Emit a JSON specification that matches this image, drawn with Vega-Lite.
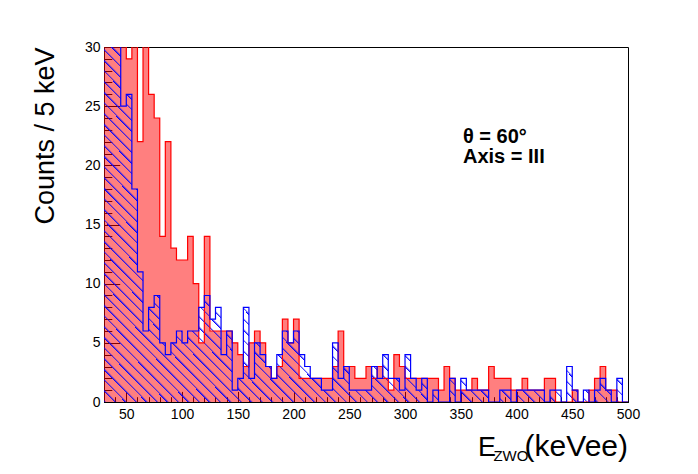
{
  "$schema": "https://vega.github.io/schema/vega-lite/v6.json",
  "description": "Energy spectrum, theta = 60 deg, Axis = III, two overlaid histograms (blue hatched, red dotted)",
  "width": 524,
  "height": 355,
  "autosize": {"type": "none"},
  "padding": {"left": 104, "top": 47, "right": 70, "bottom": 72},
  "background": "white",
  "config": {
    "font": "Liberation Sans",
    "view": {"stroke": "black", "strokeWidth": 1},
    "axis": {
      "grid": false,
      "labelFont": "Liberation Sans",
      "labelFontSize": 14,
      "labelColor": "black",
      "tickColor": "black",
      "domainColor": "black",
      "titleColor": "black"
    }
  },
  "data": {
    "values": [
      {"e": 30, "b": 45, "r": 60}, {"e": 35, "b": 40, "r": 50}, {"e": 40, "b": 33, "r": 42},
      {"e": 45, "b": 25, "r": 36}, {"e": 50, "b": 26, "r": 29}, {"e": 55, "b": 18, "r": 34},
      {"e": 60, "b": 11, "r": 22}, {"e": 65, "b": 6, "r": 32}, {"e": 70, "b": 8, "r": 26},
      {"e": 75, "b": 9, "r": 24}, {"e": 80, "b": 5, "r": 14}, {"e": 85, "b": 4, "r": 22},
      {"e": 90, "b": 5, "r": 13}, {"e": 95, "b": 6, "r": 12}, {"e": 100, "b": 5, "r": 12},
      {"e": 105, "b": 6, "r": 14}, {"e": 110, "b": 6, "r": 10}, {"e": 115, "b": 8, "r": 5},
      {"e": 120, "b": 9, "r": 14}, {"e": 125, "b": 7, "r": 6}, {"e": 130, "b": 8, "r": 6},
      {"e": 135, "b": 4, "r": 6}, {"e": 140, "b": 6, "r": 6}, {"e": 145, "b": 1, "r": 5},
      {"e": 150, "b": 2, "r": 4}, {"e": 155, "b": 8, "r": 3}, {"e": 160, "b": 2, "r": 5},
      {"e": 165, "b": 5, "r": 6}, {"e": 170, "b": 4, "r": 5}, {"e": 175, "b": 3, "r": 3},
      {"e": 180, "b": 2, "r": 2}, {"e": 185, "b": 4, "r": 3}, {"e": 190, "b": 6, "r": 7},
      {"e": 195, "b": 5, "r": 5}, {"e": 200, "b": 6, "r": 7}, {"e": 205, "b": 4, "r": 2},
      {"e": 210, "b": 3, "r": 2}, {"e": 215, "b": 2, "r": 2}, {"e": 220, "b": 2, "r": 2},
      {"e": 225, "b": 1, "r": 2}, {"e": 230, "b": 1, "r": 2}, {"e": 235, "b": 5, "r": 3},
      {"e": 240, "b": 2, "r": 6}, {"e": 245, "b": 3, "r": 3}, {"e": 250, "b": 1, "r": 3},
      {"e": 255, "b": 1, "r": 2}, {"e": 260, "b": 1, "r": 2}, {"e": 265, "b": 1, "r": 3},
      {"e": 270, "b": 3, "r": 2}, {"e": 275, "b": 2, "r": 3}, {"e": 280, "b": 4, "r": 2},
      {"e": 285, "b": 2, "r": 1}, {"e": 290, "b": 2, "r": 4}, {"e": 295, "b": 1, "r": 3},
      {"e": 300, "b": 4, "r": 2}, {"e": 305, "b": 2, "r": 2}, {"e": 310, "b": 1, "r": 2},
      {"e": 315, "b": 2, "r": 2}, {"e": 320, "b": 0, "r": 2}, {"e": 325, "b": 1, "r": 2},
      {"e": 330, "b": 0, "r": 1}, {"e": 335, "b": 0, "r": 3}, {"e": 340, "b": 2, "r": 2},
      {"e": 345, "b": 0, "r": 1}, {"e": 350, "b": 2, "r": 1}, {"e": 355, "b": 1, "r": 1},
      {"e": 360, "b": 1, "r": 2}, {"e": 365, "b": 1, "r": 1}, {"e": 370, "b": 1, "r": 1},
      {"e": 375, "b": 0, "r": 3}, {"e": 380, "b": 0, "r": 2}, {"e": 385, "b": 1, "r": 2},
      {"e": 390, "b": 1, "r": 2}, {"e": 395, "b": 0, "r": 1}, {"e": 400, "b": 1, "r": 1},
      {"e": 405, "b": 1, "r": 2}, {"e": 410, "b": 1, "r": 1}, {"e": 415, "b": 1, "r": 1},
      {"e": 420, "b": 1, "r": 1}, {"e": 425, "b": 0, "r": 2}, {"e": 430, "b": 1, "r": 2},
      {"e": 435, "b": 1, "r": 0}, {"e": 440, "b": 0, "r": 0}, {"e": 445, "b": 3, "r": 0},
      {"e": 450, "b": 1, "r": 1}, {"e": 455, "b": 0, "r": 0}, {"e": 460, "b": 1, "r": 0},
      {"e": 465, "b": 0, "r": 1}, {"e": 470, "b": 1, "r": 2}, {"e": 475, "b": 2, "r": 3},
      {"e": 480, "b": 1, "r": 1}, {"e": 485, "b": 0, "r": 1}, {"e": 490, "b": 2, "r": 0},
      {"e": 495, "b": 0, "r": 0}, {"e": 500, "b": 0, "r": 0}
    ]
  },
  "layer": [
    {
      "mark": {"type": "area", "interpolate": "step-after", "color": "#ff0000", "fillOpacity": 0.5, "clip": true},
      "encoding": {
        "x": {
          "field": "e", "type": "quantitative",
          "scale": {"domain": [30, 500], "nice": false, "zero": false},
          "axis": {
            "orient": "bottom", "title": null,
            "values": [50, 100, 150, 200, 250, 300, 350, 400, 450, 500],
            "tickSize": -10.6, "labelPadding": 15.6, "labelFlush": false
          }
        },
        "y": {
          "field": "r", "type": "quantitative",
          "scale": {"domain": [0, 30], "nice": false},
          "axis": {
            "orient": "left",
            "values": [0, 5, 10, 15, 20, 25, 30],
            "tickSize": -15.7, "labelPadding": 19.7, "labelFlush": false,
            "title": "Counts / 5 keV", "titleFontSize": 27, "titleFontWeight": "normal",
            "titleAngle": -90, "titleX": -59, "titleY": 0,
            "titleAlign": "right", "titleBaseline": "middle"
          }
        }
      }
    },
    {
      "mark": {
        "type": "area", "interpolate": "step-after", "clip": true,
        "fill": {
          "gradient": "linear", "x1": 0, "y1": 1, "x2": 1, "y2": 0,
          "stops": [
            {"offset": 0.00, "color": "#0000ff"}, {"offset": 0.0026, "color": "rgba(0,0,255,0)"}, {"offset": 0.01, "color": "rgba(0,0,255,0)"},
            {"offset": 0.01, "color": "#0000ff"}, {"offset": 0.0126, "color": "rgba(0,0,255,0)"}, {"offset": 0.02, "color": "rgba(0,0,255,0)"},
            {"offset": 0.02, "color": "#0000ff"}, {"offset": 0.0226, "color": "rgba(0,0,255,0)"}, {"offset": 0.03, "color": "rgba(0,0,255,0)"},
            {"offset": 0.03, "color": "#0000ff"}, {"offset": 0.0326, "color": "rgba(0,0,255,0)"}, {"offset": 0.04, "color": "rgba(0,0,255,0)"},
            {"offset": 0.04, "color": "#0000ff"}, {"offset": 0.0426, "color": "rgba(0,0,255,0)"}, {"offset": 0.05, "color": "rgba(0,0,255,0)"},
            {"offset": 0.05, "color": "#0000ff"}, {"offset": 0.0526, "color": "rgba(0,0,255,0)"}, {"offset": 0.06, "color": "rgba(0,0,255,0)"},
            {"offset": 0.06, "color": "#0000ff"}, {"offset": 0.0626, "color": "rgba(0,0,255,0)"}, {"offset": 0.07, "color": "rgba(0,0,255,0)"},
            {"offset": 0.07, "color": "#0000ff"}, {"offset": 0.0726, "color": "rgba(0,0,255,0)"}, {"offset": 0.08, "color": "rgba(0,0,255,0)"},
            {"offset": 0.08, "color": "#0000ff"}, {"offset": 0.0826, "color": "rgba(0,0,255,0)"}, {"offset": 0.09, "color": "rgba(0,0,255,0)"},
            {"offset": 0.09, "color": "#0000ff"}, {"offset": 0.0926, "color": "rgba(0,0,255,0)"}, {"offset": 0.10, "color": "rgba(0,0,255,0)"},
            {"offset": 0.10, "color": "#0000ff"}, {"offset": 0.1026, "color": "rgba(0,0,255,0)"}, {"offset": 0.11, "color": "rgba(0,0,255,0)"},
            {"offset": 0.11, "color": "#0000ff"}, {"offset": 0.1126, "color": "rgba(0,0,255,0)"}, {"offset": 0.12, "color": "rgba(0,0,255,0)"},
            {"offset": 0.12, "color": "#0000ff"}, {"offset": 0.1226, "color": "rgba(0,0,255,0)"}, {"offset": 0.13, "color": "rgba(0,0,255,0)"},
            {"offset": 0.13, "color": "#0000ff"}, {"offset": 0.1326, "color": "rgba(0,0,255,0)"}, {"offset": 0.14, "color": "rgba(0,0,255,0)"},
            {"offset": 0.14, "color": "#0000ff"}, {"offset": 0.1426, "color": "rgba(0,0,255,0)"}, {"offset": 0.15, "color": "rgba(0,0,255,0)"},
            {"offset": 0.15, "color": "#0000ff"}, {"offset": 0.1526, "color": "rgba(0,0,255,0)"}, {"offset": 0.16, "color": "rgba(0,0,255,0)"},
            {"offset": 0.16, "color": "#0000ff"}, {"offset": 0.1626, "color": "rgba(0,0,255,0)"}, {"offset": 0.17, "color": "rgba(0,0,255,0)"},
            {"offset": 0.17, "color": "#0000ff"}, {"offset": 0.1726, "color": "rgba(0,0,255,0)"}, {"offset": 0.18, "color": "rgba(0,0,255,0)"},
            {"offset": 0.18, "color": "#0000ff"}, {"offset": 0.1826, "color": "rgba(0,0,255,0)"}, {"offset": 0.19, "color": "rgba(0,0,255,0)"},
            {"offset": 0.19, "color": "#0000ff"}, {"offset": 0.1926, "color": "rgba(0,0,255,0)"}, {"offset": 0.20, "color": "rgba(0,0,255,0)"},
            {"offset": 0.20, "color": "#0000ff"}, {"offset": 0.2026, "color": "rgba(0,0,255,0)"}, {"offset": 0.21, "color": "rgba(0,0,255,0)"},
            {"offset": 0.21, "color": "#0000ff"}, {"offset": 0.2126, "color": "rgba(0,0,255,0)"}, {"offset": 0.22, "color": "rgba(0,0,255,0)"},
            {"offset": 0.22, "color": "#0000ff"}, {"offset": 0.2226, "color": "rgba(0,0,255,0)"}, {"offset": 0.23, "color": "rgba(0,0,255,0)"},
            {"offset": 0.23, "color": "#0000ff"}, {"offset": 0.2326, "color": "rgba(0,0,255,0)"}, {"offset": 0.24, "color": "rgba(0,0,255,0)"},
            {"offset": 0.24, "color": "#0000ff"}, {"offset": 0.2426, "color": "rgba(0,0,255,0)"}, {"offset": 0.25, "color": "rgba(0,0,255,0)"},
            {"offset": 0.25, "color": "#0000ff"}, {"offset": 0.2526, "color": "rgba(0,0,255,0)"}, {"offset": 0.26, "color": "rgba(0,0,255,0)"},
            {"offset": 0.26, "color": "#0000ff"}, {"offset": 0.2626, "color": "rgba(0,0,255,0)"}, {"offset": 0.27, "color": "rgba(0,0,255,0)"},
            {"offset": 0.27, "color": "#0000ff"}, {"offset": 0.2726, "color": "rgba(0,0,255,0)"}, {"offset": 0.28, "color": "rgba(0,0,255,0)"},
            {"offset": 0.28, "color": "#0000ff"}, {"offset": 0.2826, "color": "rgba(0,0,255,0)"}, {"offset": 0.29, "color": "rgba(0,0,255,0)"},
            {"offset": 0.29, "color": "#0000ff"}, {"offset": 0.2926, "color": "rgba(0,0,255,0)"}, {"offset": 0.30, "color": "rgba(0,0,255,0)"},
            {"offset": 0.30, "color": "#0000ff"}, {"offset": 0.3026, "color": "rgba(0,0,255,0)"}, {"offset": 0.31, "color": "rgba(0,0,255,0)"},
            {"offset": 0.31, "color": "#0000ff"}, {"offset": 0.3126, "color": "rgba(0,0,255,0)"}, {"offset": 0.32, "color": "rgba(0,0,255,0)"},
            {"offset": 0.32, "color": "#0000ff"}, {"offset": 0.3226, "color": "rgba(0,0,255,0)"}, {"offset": 0.33, "color": "rgba(0,0,255,0)"},
            {"offset": 0.33, "color": "#0000ff"}, {"offset": 0.3326, "color": "rgba(0,0,255,0)"}, {"offset": 0.34, "color": "rgba(0,0,255,0)"},
            {"offset": 0.34, "color": "#0000ff"}, {"offset": 0.3426, "color": "rgba(0,0,255,0)"}, {"offset": 0.35, "color": "rgba(0,0,255,0)"},
            {"offset": 0.35, "color": "#0000ff"}, {"offset": 0.3526, "color": "rgba(0,0,255,0)"}, {"offset": 0.36, "color": "rgba(0,0,255,0)"},
            {"offset": 0.36, "color": "#0000ff"}, {"offset": 0.3626, "color": "rgba(0,0,255,0)"}, {"offset": 0.37, "color": "rgba(0,0,255,0)"},
            {"offset": 0.37, "color": "#0000ff"}, {"offset": 0.3726, "color": "rgba(0,0,255,0)"}, {"offset": 0.38, "color": "rgba(0,0,255,0)"},
            {"offset": 0.38, "color": "#0000ff"}, {"offset": 0.3826, "color": "rgba(0,0,255,0)"}, {"offset": 0.39, "color": "rgba(0,0,255,0)"},
            {"offset": 0.39, "color": "#0000ff"}, {"offset": 0.3926, "color": "rgba(0,0,255,0)"}, {"offset": 0.40, "color": "rgba(0,0,255,0)"},
            {"offset": 0.40, "color": "#0000ff"}, {"offset": 0.4026, "color": "rgba(0,0,255,0)"}, {"offset": 0.41, "color": "rgba(0,0,255,0)"},
            {"offset": 0.41, "color": "#0000ff"}, {"offset": 0.4126, "color": "rgba(0,0,255,0)"}, {"offset": 0.42, "color": "rgba(0,0,255,0)"},
            {"offset": 0.42, "color": "#0000ff"}, {"offset": 0.4226, "color": "rgba(0,0,255,0)"}, {"offset": 0.43, "color": "rgba(0,0,255,0)"},
            {"offset": 0.43, "color": "#0000ff"}, {"offset": 0.4326, "color": "rgba(0,0,255,0)"}, {"offset": 0.44, "color": "rgba(0,0,255,0)"},
            {"offset": 0.44, "color": "#0000ff"}, {"offset": 0.4426, "color": "rgba(0,0,255,0)"}, {"offset": 0.45, "color": "rgba(0,0,255,0)"},
            {"offset": 0.45, "color": "#0000ff"}, {"offset": 0.4526, "color": "rgba(0,0,255,0)"}, {"offset": 0.46, "color": "rgba(0,0,255,0)"},
            {"offset": 0.46, "color": "#0000ff"}, {"offset": 0.4626, "color": "rgba(0,0,255,0)"}, {"offset": 0.47, "color": "rgba(0,0,255,0)"},
            {"offset": 0.47, "color": "#0000ff"}, {"offset": 0.4726, "color": "rgba(0,0,255,0)"}, {"offset": 0.48, "color": "rgba(0,0,255,0)"},
            {"offset": 0.48, "color": "#0000ff"}, {"offset": 0.4826, "color": "rgba(0,0,255,0)"}, {"offset": 0.49, "color": "rgba(0,0,255,0)"},
            {"offset": 0.49, "color": "#0000ff"}, {"offset": 0.4926, "color": "rgba(0,0,255,0)"}, {"offset": 0.50, "color": "rgba(0,0,255,0)"},
            {"offset": 0.50, "color": "#0000ff"}, {"offset": 0.5026, "color": "rgba(0,0,255,0)"}, {"offset": 0.51, "color": "rgba(0,0,255,0)"},
            {"offset": 0.51, "color": "#0000ff"}, {"offset": 0.5126, "color": "rgba(0,0,255,0)"}, {"offset": 0.52, "color": "rgba(0,0,255,0)"},
            {"offset": 0.52, "color": "#0000ff"}, {"offset": 0.5226, "color": "rgba(0,0,255,0)"}, {"offset": 0.53, "color": "rgba(0,0,255,0)"},
            {"offset": 0.53, "color": "#0000ff"}, {"offset": 0.5326, "color": "rgba(0,0,255,0)"}, {"offset": 0.54, "color": "rgba(0,0,255,0)"},
            {"offset": 0.54, "color": "#0000ff"}, {"offset": 0.5426, "color": "rgba(0,0,255,0)"}, {"offset": 0.55, "color": "rgba(0,0,255,0)"},
            {"offset": 0.55, "color": "#0000ff"}, {"offset": 0.5526, "color": "rgba(0,0,255,0)"}, {"offset": 0.56, "color": "rgba(0,0,255,0)"},
            {"offset": 0.56, "color": "#0000ff"}, {"offset": 0.5626, "color": "rgba(0,0,255,0)"}, {"offset": 0.57, "color": "rgba(0,0,255,0)"},
            {"offset": 0.57, "color": "#0000ff"}, {"offset": 0.5726, "color": "rgba(0,0,255,0)"}, {"offset": 0.58, "color": "rgba(0,0,255,0)"},
            {"offset": 0.58, "color": "#0000ff"}, {"offset": 0.5826, "color": "rgba(0,0,255,0)"}, {"offset": 0.59, "color": "rgba(0,0,255,0)"},
            {"offset": 0.59, "color": "#0000ff"}, {"offset": 0.5926, "color": "rgba(0,0,255,0)"}, {"offset": 0.60, "color": "rgba(0,0,255,0)"},
            {"offset": 0.60, "color": "#0000ff"}, {"offset": 0.6026, "color": "rgba(0,0,255,0)"}, {"offset": 0.61, "color": "rgba(0,0,255,0)"},
            {"offset": 0.61, "color": "#0000ff"}, {"offset": 0.6126, "color": "rgba(0,0,255,0)"}, {"offset": 0.62, "color": "rgba(0,0,255,0)"},
            {"offset": 0.62, "color": "#0000ff"}, {"offset": 0.6226, "color": "rgba(0,0,255,0)"}, {"offset": 0.63, "color": "rgba(0,0,255,0)"},
            {"offset": 0.63, "color": "#0000ff"}, {"offset": 0.6326, "color": "rgba(0,0,255,0)"}, {"offset": 0.64, "color": "rgba(0,0,255,0)"},
            {"offset": 0.64, "color": "#0000ff"}, {"offset": 0.6426, "color": "rgba(0,0,255,0)"}, {"offset": 0.65, "color": "rgba(0,0,255,0)"},
            {"offset": 0.65, "color": "#0000ff"}, {"offset": 0.6526, "color": "rgba(0,0,255,0)"}, {"offset": 0.66, "color": "rgba(0,0,255,0)"},
            {"offset": 0.66, "color": "#0000ff"}, {"offset": 0.6626, "color": "rgba(0,0,255,0)"}, {"offset": 0.67, "color": "rgba(0,0,255,0)"},
            {"offset": 0.67, "color": "#0000ff"}, {"offset": 0.6726, "color": "rgba(0,0,255,0)"}, {"offset": 0.68, "color": "rgba(0,0,255,0)"},
            {"offset": 0.68, "color": "#0000ff"}, {"offset": 0.6826, "color": "rgba(0,0,255,0)"}, {"offset": 0.69, "color": "rgba(0,0,255,0)"},
            {"offset": 0.69, "color": "#0000ff"}, {"offset": 0.6926, "color": "rgba(0,0,255,0)"}, {"offset": 0.70, "color": "rgba(0,0,255,0)"},
            {"offset": 0.70, "color": "#0000ff"}, {"offset": 0.7026, "color": "rgba(0,0,255,0)"}, {"offset": 0.71, "color": "rgba(0,0,255,0)"},
            {"offset": 0.71, "color": "#0000ff"}, {"offset": 0.7126, "color": "rgba(0,0,255,0)"}, {"offset": 0.72, "color": "rgba(0,0,255,0)"},
            {"offset": 0.72, "color": "#0000ff"}, {"offset": 0.7226, "color": "rgba(0,0,255,0)"}, {"offset": 0.73, "color": "rgba(0,0,255,0)"},
            {"offset": 0.73, "color": "#0000ff"}, {"offset": 0.7326, "color": "rgba(0,0,255,0)"}, {"offset": 0.74, "color": "rgba(0,0,255,0)"},
            {"offset": 0.74, "color": "#0000ff"}, {"offset": 0.7426, "color": "rgba(0,0,255,0)"}, {"offset": 0.75, "color": "rgba(0,0,255,0)"},
            {"offset": 0.75, "color": "#0000ff"}, {"offset": 0.7526, "color": "rgba(0,0,255,0)"}, {"offset": 0.76, "color": "rgba(0,0,255,0)"},
            {"offset": 0.76, "color": "#0000ff"}, {"offset": 0.7626, "color": "rgba(0,0,255,0)"}, {"offset": 0.77, "color": "rgba(0,0,255,0)"},
            {"offset": 0.77, "color": "#0000ff"}, {"offset": 0.7726, "color": "rgba(0,0,255,0)"}, {"offset": 0.78, "color": "rgba(0,0,255,0)"},
            {"offset": 0.78, "color": "#0000ff"}, {"offset": 0.7826, "color": "rgba(0,0,255,0)"}, {"offset": 0.79, "color": "rgba(0,0,255,0)"},
            {"offset": 0.79, "color": "#0000ff"}, {"offset": 0.7926, "color": "rgba(0,0,255,0)"}, {"offset": 0.80, "color": "rgba(0,0,255,0)"},
            {"offset": 0.80, "color": "#0000ff"}, {"offset": 0.8026, "color": "rgba(0,0,255,0)"}, {"offset": 0.81, "color": "rgba(0,0,255,0)"},
            {"offset": 0.81, "color": "#0000ff"}, {"offset": 0.8126, "color": "rgba(0,0,255,0)"}, {"offset": 0.82, "color": "rgba(0,0,255,0)"},
            {"offset": 0.82, "color": "#0000ff"}, {"offset": 0.8226, "color": "rgba(0,0,255,0)"}, {"offset": 0.83, "color": "rgba(0,0,255,0)"},
            {"offset": 0.83, "color": "#0000ff"}, {"offset": 0.8326, "color": "rgba(0,0,255,0)"}, {"offset": 0.84, "color": "rgba(0,0,255,0)"},
            {"offset": 0.84, "color": "#0000ff"}, {"offset": 0.8426, "color": "rgba(0,0,255,0)"}, {"offset": 0.85, "color": "rgba(0,0,255,0)"},
            {"offset": 0.85, "color": "#0000ff"}, {"offset": 0.8526, "color": "rgba(0,0,255,0)"}, {"offset": 0.86, "color": "rgba(0,0,255,0)"},
            {"offset": 0.86, "color": "#0000ff"}, {"offset": 0.8626, "color": "rgba(0,0,255,0)"}, {"offset": 0.87, "color": "rgba(0,0,255,0)"},
            {"offset": 0.87, "color": "#0000ff"}, {"offset": 0.8726, "color": "rgba(0,0,255,0)"}, {"offset": 0.88, "color": "rgba(0,0,255,0)"},
            {"offset": 0.88, "color": "#0000ff"}, {"offset": 0.8826, "color": "rgba(0,0,255,0)"}, {"offset": 0.89, "color": "rgba(0,0,255,0)"},
            {"offset": 0.89, "color": "#0000ff"}, {"offset": 0.8926, "color": "rgba(0,0,255,0)"}, {"offset": 0.90, "color": "rgba(0,0,255,0)"},
            {"offset": 0.90, "color": "#0000ff"}, {"offset": 0.9026, "color": "rgba(0,0,255,0)"}, {"offset": 0.91, "color": "rgba(0,0,255,0)"},
            {"offset": 0.91, "color": "#0000ff"}, {"offset": 0.9126, "color": "rgba(0,0,255,0)"}, {"offset": 0.92, "color": "rgba(0,0,255,0)"},
            {"offset": 0.92, "color": "#0000ff"}, {"offset": 0.9226, "color": "rgba(0,0,255,0)"}, {"offset": 0.93, "color": "rgba(0,0,255,0)"},
            {"offset": 0.93, "color": "#0000ff"}, {"offset": 0.9326, "color": "rgba(0,0,255,0)"}, {"offset": 0.94, "color": "rgba(0,0,255,0)"},
            {"offset": 0.94, "color": "#0000ff"}, {"offset": 0.9426, "color": "rgba(0,0,255,0)"}, {"offset": 0.95, "color": "rgba(0,0,255,0)"},
            {"offset": 0.95, "color": "#0000ff"}, {"offset": 0.9526, "color": "rgba(0,0,255,0)"}, {"offset": 0.96, "color": "rgba(0,0,255,0)"},
            {"offset": 0.96, "color": "#0000ff"}, {"offset": 0.9626, "color": "rgba(0,0,255,0)"}, {"offset": 0.97, "color": "rgba(0,0,255,0)"},
            {"offset": 0.97, "color": "#0000ff"}, {"offset": 0.9726, "color": "rgba(0,0,255,0)"}, {"offset": 0.98, "color": "rgba(0,0,255,0)"},
            {"offset": 0.98, "color": "#0000ff"}, {"offset": 0.9826, "color": "rgba(0,0,255,0)"}, {"offset": 0.99, "color": "rgba(0,0,255,0)"},
            {"offset": 0.99, "color": "#0000ff"}, {"offset": 0.9926, "color": "rgba(0,0,255,0)"}, {"offset": 1.00, "color": "rgba(0,0,255,0)"}
          ]
        }
      },
      "encoding": {
        "x": {
          "field": "e", "type": "quantitative",
          "axis": {
            "orient": "bottom", "title": null, "labels": false, "domain": false,
            "values": [30, 40, 50, 60, 70, 80, 90, 100, 110, 120, 130, 140, 150, 160, 170, 180, 190, 200, 210, 220, 230, 240, 250, 260, 270, 280, 290, 300, 310, 320, 330, 340, 350, 360, 370, 380, 390, 400, 410, 420, 430, 440, 450, 460, 470, 480, 490, 500],
            "tickSize": -5.3
          }
        },
        "y": {
          "field": "b", "type": "quantitative",
          "axis": {
            "orient": "left", "title": null, "labels": false, "domain": false,
            "values": [0, 1, 2, 3, 4, 5, 6, 7, 8, 9, 10, 11, 12, 13, 14, 15, 16, 17, 18, 19, 20, 21, 22, 23, 24, 25, 26, 27, 28, 29, 30],
            "tickSize": -7.8
          }
        }
      }
    },
    {
      "mark": {"type": "line", "interpolate": "step-after", "color": "#ff0000", "strokeWidth": 1.2, "clip": true},
      "encoding": {
        "x": {"field": "e", "type": "quantitative", "axis": null},
        "y": {"field": "r", "type": "quantitative", "axis": null}
      }
    },
    {
      "mark": {"type": "line", "interpolate": "step-after", "color": "#0000ff", "strokeWidth": 1.2, "clip": true},
      "encoding": {
        "x": {"field": "e", "type": "quantitative", "axis": null},
        "y": {"field": "b", "type": "quantitative", "axis": null}
      }
    },
    {
      "data": {"values": [{"label": "θ = 60°"}]},
      "mark": {"type": "text", "align": "left", "baseline": "alphabetic", "fontSize": 20, "fontWeight": "bold", "color": "black"},
      "encoding": {
        "text": {"field": "label"},
        "x": {"datum": 352, "type": "quantitative", "axis": null},
        "y": {"datum": 21.9, "type": "quantitative", "axis": null}
      }
    },
    {
      "data": {"values": [{"label": "Axis = III"}]},
      "mark": {"type": "text", "align": "left", "baseline": "alphabetic", "fontSize": 20, "fontWeight": "bold", "color": "black"},
      "encoding": {
        "text": {"field": "label"},
        "x": {"datum": 352, "type": "quantitative", "axis": null},
        "y": {"datum": 20.2, "type": "quantitative", "axis": null}
      }
    },
    {
      "data": {"values": [{"label": "E"}]},
      "mark": {"type": "text", "align": "left", "baseline": "alphabetic", "fontSize": 27, "color": "black"},
      "encoding": {
        "text": {"field": "label"},
        "x": {"datum": 365.4, "type": "quantitative", "axis": null},
        "y": {"datum": -4.56, "type": "quantitative", "axis": null}
      }
    },
    {
      "data": {"values": [{"label": "ZWO"}]},
      "mark": {"type": "text", "align": "left", "baseline": "alphabetic", "fontSize": 15, "color": "black"},
      "encoding": {
        "text": {"field": "label"},
        "x": {"datum": 379.3, "type": "quantitative", "axis": null},
        "y": {"datum": -5.0, "type": "quantitative", "axis": null}
      }
    },
    {
      "data": {"values": [{"label": "(keVee)"}]},
      "mark": {"type": "text", "align": "right", "baseline": "alphabetic", "fontSize": 30, "color": "black"},
      "encoding": {
        "text": {"field": "label"},
        "x": {"datum": 500, "type": "quantitative", "axis": null},
        "y": {"datum": -4.56, "type": "quantitative", "axis": null}
      }
    }
  ],
  "resolve": {"axis": {"x": "independent", "y": "independent"}}
}
